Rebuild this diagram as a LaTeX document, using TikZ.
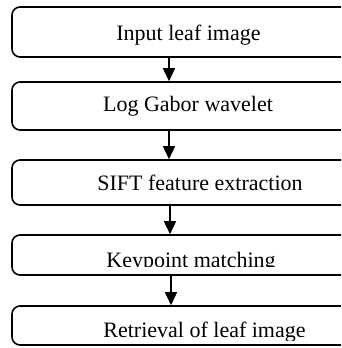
\documentclass[tikz,border=0pt]{standalone}
\usepackage{fontspec}
\setmainfont{Liberation Serif}
\usetikzlibrary{arrows.meta}
\begin{document}
\begin{tikzpicture}[x=1pt,y=-1pt,
  box/.style={draw,line width=1.6pt,rounded corners=8pt,minimum width=368pt,inner sep=0pt},
  lbl/.style={anchor=base,inner sep=0pt,font=\fontsize{22}{26}\selectfont},
  arr/.style={line width=1.5pt,-{Triangle[width=12pt,length=13pt]}}]
\useasboundingbox (0,0) rectangle (341,348);
\clip (0,0) rectangle (341,348);
\node[box,minimum height=50pt] (b1) at (196,32) {};
\node[box,minimum height=48pt] (b2) at (196,106) {};
\node[box,minimum height=45pt] (b3) at (196,182.5) {};
\node[box,minimum height=40pt] (b4) at (196,255) {};
\node[box,minimum height=39pt] (b5) at (196,325.5) {};
\node[lbl] (t1) at (188.5,40) {Input leaf image};
\node[lbl] (t2) at (188,111) {Log Gabor wavelet};
\node[lbl] (t3) at (200,190) {SIFT feature extraction};
\begin{scope}
\clip (0,0) rectangle (341,266);
\node[lbl] (t4) at (191,267) {Keypoint matching};
\end{scope}
\begin{scope}
\clip (0,0) rectangle (341,340);
\node[lbl] (t5) at (204.5,337.5) {Retrieval of leaf image};
\end{scope}
\coordinate (ax) at (169,0);
\draw[arr] (b1.south -| ax) -- (b2.north -| ax);
\draw[arr] (b2.south -| ax) -- (b3.north -| ax);
\draw[arr] ([xshift=1pt]b3.south -| ax) -- ([xshift=1pt]b4.north -| ax);
\draw[arr] ([xshift=2pt]b4.south -| ax) -- ([xshift=2pt]b5.north -| ax);
\end{tikzpicture}
\end{document}
